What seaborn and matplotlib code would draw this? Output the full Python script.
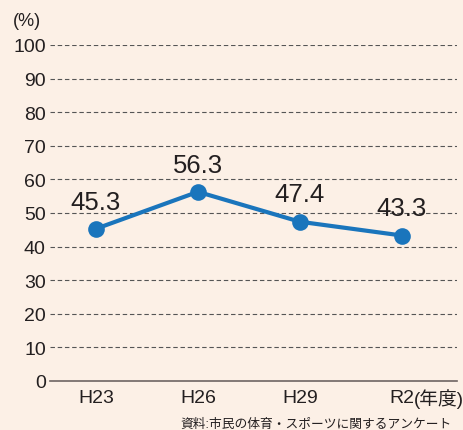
import matplotlib
matplotlib.use("Agg")
import matplotlib.pyplot as plt
import seaborn as sns
import pandas as pd

# Data
years = ["H23", "H26", "H29", "R2"]
values = [45.3, 56.3, 47.4, 43.3]
yticks = [0, 10, 20, 30, 40, 50, 60, 70, 80, 90, 100]

bg = "#fcf0e6"
blue = "#1a75bc"

sns.set_style("white")
plt.rcParams["font.family"] = ["Liberation Sans", "Noto Sans CJK JP"]

df = pd.DataFrame({"year": years, "value": values})
df["pos"] = range(len(years))

fig = plt.figure(figsize=(4.64, 4.31), dpi=100, facecolor=bg)
ax = fig.add_axes([50 / 464, 49 / 431, 407 / 464, 336 / 431])
ax.set_facecolor(bg)

sns.lineplot(data=df, x="pos", y="value", ax=ax, color=blue, linewidth=3,
             marker="o", markersize=12, markeredgewidth=0, zorder=3)

for x, v in zip(df["pos"], df["value"]):
    ax.annotate(f"{v:.1f}", (x, v), xytext=(0, 11), textcoords="offset points",
                ha="center", va="bottom", fontsize=18.5, color="#231f20")

ax.set_xlim(-0.45, 3.54)
ax.set_ylim(0, 100)
ax.set_yticks(yticks)
ax.set_yticklabels([str(t) for t in yticks], fontsize=14, color="#231f20")
ax.set_xticks(df["pos"])
ax.set_xticklabels(years, fontsize=14, color="#231f20")
ax.tick_params(axis="both", length=0)
ax.tick_params(axis="x", pad=6)
ax.tick_params(axis="y", pad=3)

for t in yticks[1:]:
    ax.axhline(t, color="#555555", linestyle=(0, (4, 2.5)), linewidth=0.8, zorder=1)

for s in ["top", "right", "left"]:
    ax.spines[s].set_visible(False)
ax.spines["bottom"].set_color("#6e6462")
ax.spines["bottom"].set_linewidth(1.2)
ax.set_xlabel("")
ax.set_ylabel("")

fig.text(13 / 464, 1 - 22 / 431, "(%)", fontsize=13, color="#231f20", va="center")
fig.text(414 / 464, 1 - 399 / 431, "(年度)", fontsize=13.5, color="#231f20",
         va="center", ha="left")
fig.text(180 / 464, 1 - 425 / 431, "資料:市民の体育・スポーツに関するアンケート",
         fontsize=9.2, color="#231f20", va="center", ha="left")

fig.savefig("out.png", dpi=100, facecolor=bg)
